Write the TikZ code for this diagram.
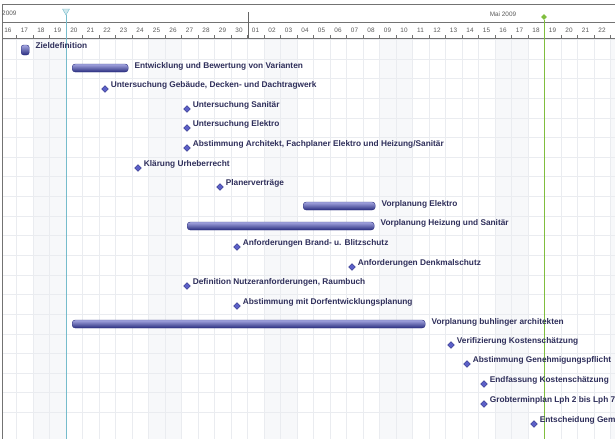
\documentclass[tikz,border=0pt]{standalone}
\usepackage{fontspec}
\setmainfont{Liberation Sans}
\usetikzlibrary{shapes.geometric,positioning}

\definecolor{taskblue}{RGB}{92,96,200}
\definecolor{bardark}{RGB}{42,46,128}
\definecolor{textnavy}{RGB}{46,46,90}
\definecolor{todaycyan}{RGB}{118,188,204}
\definecolor{endgreen}{RGB}{128,190,62}
\definecolor{gridgray}{RGB}{234,236,240}
\definecolor{wkend}{RGB}{247,248,250}

\tikzset{
  ms/.style={diamond, fill=taskblue, draw=bardark, line width=0.3pt, inner sep=0pt, minimum size=7pt},
  bar/.style={rounded corners=3pt, draw=bardark, line width=0.4pt, top color=taskblue!55, middle color=taskblue, bottom color=bardark, minimum height=8pt, inner sep=0pt, anchor=west},
  task/.style={font=\bfseries\fontsize{8.3}{9}\selectfont, text=textnavy, inner sep=0pt},
  day/.style={font=\fontsize{6.4}{7}\selectfont, text=black!65, inner sep=0pt},
}

\begin{document}
\begin{tikzpicture}[x=1pt,y=-1pt]
                \useasboundingbox (0,0) rectangle (615,439);
                \clip (0,0) rectangle (615,439);
                % weekend columns and grid
                \foreach \i in {2,3,9,10,16,17,23,24,30,31,37}
                    \fill[wkend] ({16.5*\i-0.25},38) rectangle ({16.5*\i+16.25},439);
                \foreach \i in {0,...,37}
                    \draw[gridgray,line width=0.3pt] ({16.5*\i-0.25},38) -- ({16.5*\i-0.25},439);
                \foreach \r in {0,...,19}
                    \draw[gridgray,line width=0.3pt] (2,{39.2+19.63*\r}) -- (615,{39.2+19.63*\r});
                % header
                \draw[black!55,line width=0.5pt] (2,4) -- (615,4);
                \draw[black!55,line width=0.5pt] (2,22) -- (615,22);
                \draw[black!55,line width=0.5pt] (2,38) -- (615,38);
                \draw[black!55,line width=0.8pt] (2,4) -- (2,439);
                \node[day, anchor=west] (yr) at (2,13) {2009};
                \node[day] (mai) at (503,14) {Mai 2009};
                \draw[black!60,line width=0.5pt] (248,12) -- (248,38);
                \foreach \d [count=\i from 0] in {16,17,18,19,20,21,22,23,24,25,26,27,28,29,30}
                    \node[day] (d\i) at ({8+16.5*\i},30) {\d};
                \foreach \d [count=\i from 15] in {01,02,03,04,05,06,07,08,09,10,11,12,13,14,15,16,17,18,19,20,21,22}
                    \node[day] (d\i) at ({8+16.5*\i},30) {\d};
                \foreach \i in {1,...,37}
                    \draw[black!55,line width=0.4pt] ({16.5*\i-0.25},35) -- ({16.5*\i-0.25},38);
                % today and end lines
                \node[regular polygon, regular polygon sides=3, shape border rotate=180, draw=todaycyan, fill=todaycyan!35, inner sep=0pt, minimum size=8pt] (today) at (66,11) {};
                \coordinate (todayend) at (66,439);
                \draw[todaycyan,line width=0.8pt] (today.south) -- (todayend);
                \node[diamond, fill=endgreen, inner sep=0pt, minimum size=6pt] (finish) at (544,17) {};
                \coordinate (finishend) at (544,439);
                \draw[endgreen,line width=0.8pt] (finish.south) -- (finishend);
                % tasks
                \node[bar, rounded corners=2.5pt, minimum width=8pt, minimum height=10pt] (m1) at (21,50) {};
                \node[task, right=6pt of m1, yshift=4pt] (t1) {Zieldefinition};
                \node[bar, minimum width=56pt] (b2) at (72,68) {};
                \node[task, right=6pt of b2, yshift=2pt] (t2) {Entwicklung und Bewertung von Varianten};
                \node[ms] (m3) at (105,89) {};
                \node[task, right=2pt of m3, yshift=4pt] (t3) {Untersuchung Gebäude, Decken- und Dachtragwerk};
                \node[ms] (m4) at (187,109) {};
                \node[task, right=2pt of m4, yshift=4pt] (t4) {Untersuchung Sanitär};
                \node[ms] (m5) at (187,128) {};
                \node[task, right=2pt of m5, yshift=4pt] (t5) {Untersuchung Elektro};
                \node[ms] (m6) at (187,148) {};
                \node[task, right=2pt of m6, yshift=4pt] (t6) {Abstimmung Architekt, Fachplaner Elektro und Heizung/Sanitär};
                \node[ms] (m7) at (138,168) {};
                \node[task, right=2pt of m7, yshift=4pt] (t7) {Klärung Urheberrecht};
                \node[ms] (m8) at (220,187) {};
                \node[task, right=2pt of m8, yshift=4pt] (t8) {Planerverträge};
                \node[bar, minimum width=72pt] (b9) at (303,206) {};
                \node[task, right=6pt of b9, yshift=2pt] (t9) {Vorplanung Elektro};
                \node[bar, minimum width=187pt] (b10) at (187,226) {};
                \node[task, right=6pt of b10, yshift=3pt] (t10) {Vorplanung Heizung und Sanitär};
                \node[ms] (m11) at (237,247) {};
                \node[task, right=2pt of m11, yshift=4pt] (t11) {Anforderungen Brand- u. Blitzschutz};
                \node[ms] (m12) at (352,267) {};
                \node[task, right=2pt of m12, yshift=4pt] (t12) {Anforderungen Denkmalschutz};
                \node[ms] (m13) at (187,286) {};
                \node[task, right=2pt of m13, yshift=4pt] (t13) {Definition Nutzeranforderungen, Raumbuch};
                \node[ms] (m14) at (237,306) {};
                \node[task, right=2pt of m14, yshift=4pt] (t14) {Abstimmung mit Dorfentwicklungsplanung};
                \node[bar, minimum width=353pt] (b15) at (72,324) {};
                \node[task, right=6pt of b15, yshift=2pt] (t15) {Vorplanung buhlinger architekten};
                \node[ms] (m16) at (451,345) {};
                \node[task, right=2pt of m16, yshift=4pt] (t16) {Verifizierung Kostenschätzung};
                \node[ms] (m17) at (467,364) {};
                \node[task, right=2pt of m17, yshift=4pt] (t17) {Abstimmung Genehmigungspflicht};
                \node[ms] (m18) at (484,384) {};
                \node[task, right=2pt of m18, yshift=4pt] (t18) {Endfassung Kostenschätzung};
                \node[ms] (m19) at (484,404) {};
                \node[task, right=2pt of m19, yshift=4pt] (t19) {Grobterminplan Lph 2 bis Lph 7};
                \node[ms] (m20) at (534,424) {};
                \node[task, right=2pt of m20, yshift=4pt] (t20) {Entscheidung Gem};
            \end{tikzpicture}
\end{document}
